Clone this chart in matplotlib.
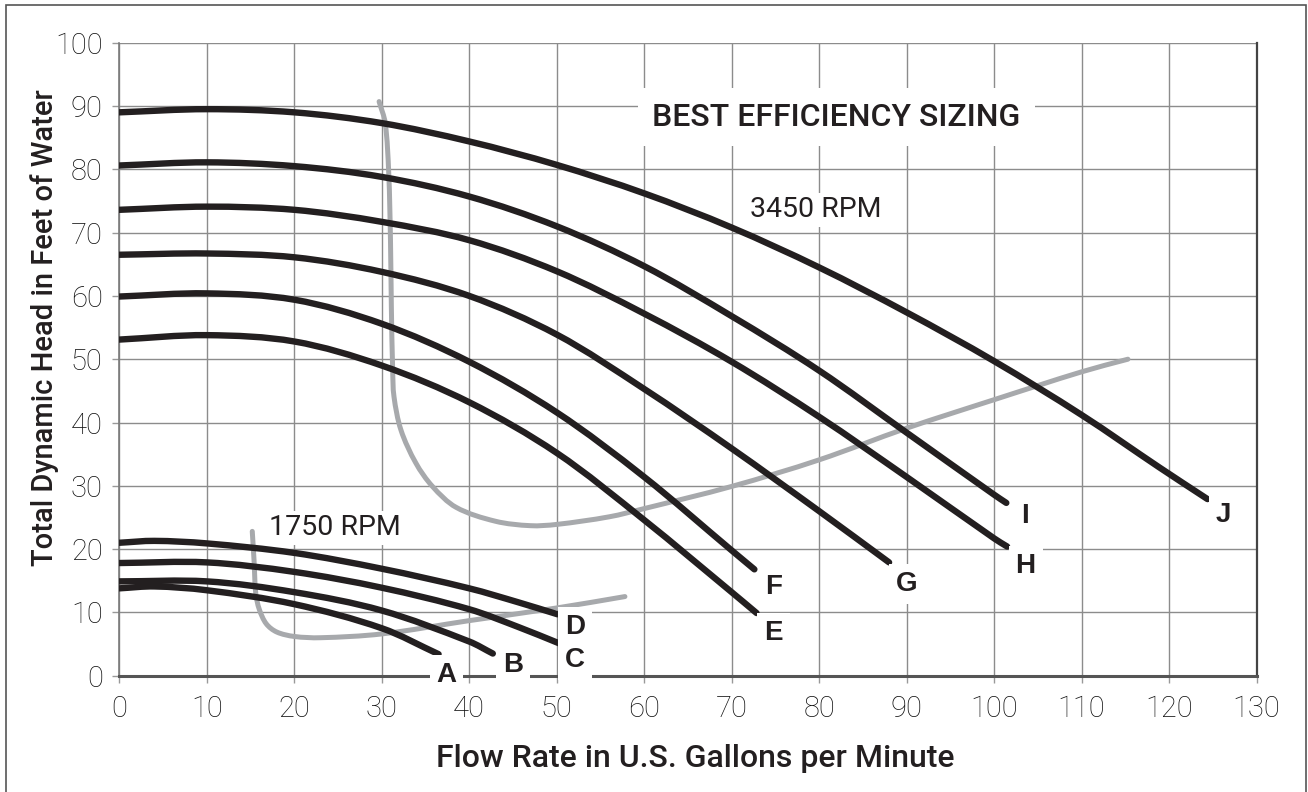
import matplotlib
matplotlib.use("Agg")
import numpy as np
import matplotlib.pyplot as plt
from matplotlib.patches import Rectangle, PathPatch
from matplotlib.path import Path

# ---------------- data ----------------
# 3450 RPM curves
x_E = [0, 10, 20, 30, 40, 50, 60, 70, 72.85]
y_E = [53.1, 53.8, 52.8, 49.0, 43.2, 35.2, 24.6, 13.2, 9.9]
x_F = [0, 10, 20, 30, 40, 50, 60, 70, 72.6]
y_F = [59.9, 60.4, 59.4, 55.6, 49.6, 41.6, 31.4, 19.8, 16.8]
x_G = [0, 10, 20, 30, 40, 50, 60, 70, 80, 88.0]
y_G = [66.5, 66.7, 66.1, 63.8, 60.0, 53.9, 45.3, 35.9, 26.0, 17.9]
x_H = [0, 10, 20, 30, 40, 50, 60, 70, 80, 90, 100, 101.5]
y_H = [73.6, 74.1, 73.6, 71.7, 68.8, 63.9, 57.2, 49.6, 40.9, 31.4, 21.7, 20.4]
x_I = [0, 10, 20, 30, 40, 50, 60, 70, 80, 90, 100, 101.4]
y_I = [80.6, 81.1, 80.5, 78.8, 75.7, 71.0, 64.7, 56.8, 48.2, 38.4, 28.6, 27.3]
x_J = [0, 10, 20, 30, 40, 50, 60, 70, 80, 90, 100, 110, 118.9, 124.4]
y_J = [89.0, 89.5, 89.0, 87.3, 84.4, 80.7, 76.2, 70.8, 64.5, 57.4, 49.7, 41.2, 32.9, 27.9]

# 1750 RPM curves
x_A = [0, 4, 10, 20, 30, 36.5]
y_A = [13.8, 14.1, 13.5, 11.3, 7.5, 3.4]
x_B = [0, 10, 20, 30, 40, 42.7]
y_B = [14.9, 14.9, 13.2, 10.3, 5.4, 3.5]
x_C = [0, 10, 20, 30, 40, 45.6, 50.3]
y_C = [17.8, 17.9, 16.4, 13.9, 10.5, 7.7, 5.1]
x_D = [0, 4, 10, 20, 30, 40, 45.6, 50.1]
y_D = [21.0, 21.3, 20.9, 19.4, 16.9, 13.8, 11.6, 9.7]

# best-efficiency boundaries (grey)
x_be3450 = [29.7, 30.4, 30.8, 31.0, 31.1, 31.25, 31.4, 32.2, 33.9, 35.8, 38.5,
            43.0, 47.0, 50.0, 56.0, 60.0, 70.0, 80.0, 90.0, 100.0, 110.0, 115.3]
y_be3450 = [90.7, 87.3, 79.4, 68.8, 58.3, 48.3, 44.1, 38.8, 33.6, 29.9, 26.6,
            24.4, 23.7, 23.9, 25.1, 26.4, 29.9, 34.1, 39.1, 43.6, 48.0, 50.0]
x_be1750 = [15.2, 15.4, 15.6, 16.0, 16.8, 18.0, 20.0, 23.0, 30.0, 40.0, 50.0, 57.8]
y_be1750 = [22.8, 18.3, 13.0, 10.5, 8.2, 6.9, 6.2, 6.0, 6.6, 8.7, 10.7, 12.5]

curve_names = ["A", "B", "C", "D", "E", "F", "G", "H", "I", "J"]
curve_x = [x_A, x_B, x_C, x_D, x_E, x_F, x_G, x_H, x_I, x_J]
curve_y = [y_A, y_B, y_C, y_D, y_E, y_F, y_G, y_H, y_I, y_J]
label_x = [37.4, 45.0, 52.1, 52.1, 74.8, 74.8, 90.0, 103.6, 103.5, 126.2]
label_y = [-0.95, 0.6, 1.4, 6.6, 5.6, 12.9, 13.4, 16.3, 24.1, 24.3]

x_ticks = list(range(0, 131, 10))
y_ticks = list(range(0, 101, 10))

# ---------------- figure ----------------
BLACK = "#231f20"
GREY = "#a7a9ac"
GRID = "#8c8c8c"

fig = plt.figure(figsize=(13.08, 7.92), dpi=100)
ax = fig.add_axes([119.3 / 1308, 1 - 675.7 / 792, (1256.5 - 119.3) / 1308, (675.7 - 42.7) / 792])
ax.set_xlim(0, 130)
ax.set_ylim(0, 100)
ax.set_xticks(x_ticks)
ax.set_yticks(y_ticks)
ax.set_axisbelow(True)
ax.grid(True, color=GRID, lw=1.0)

ax.spines["top"].set_visible(False)
ax.spines["left"].set_color("#7a7a7a")
ax.spines["left"].set_linewidth(1.2)
ax.spines["bottom"].set_color("#555555")
ax.spines["bottom"].set_linewidth(2.2)
ax.spines["right"].set_color("#444444")
ax.spines["right"].set_linewidth(1.6)

ax.tick_params(axis="both", length=5, width=1, color="#999999", colors="#111111")
ax.tick_params(axis="x", pad=9)
ax.tick_params(axis="y", pad=7)
for lab in ax.get_xticklabels() + ax.get_yticklabels():
    lab.set_fontfamily(["Roboto", "DejaVu Sans"])
    lab.set_fontweight("light")
    lab.set_fontsize(21)
    lab.set_color("#111111")


def smooth_path(xs, ys):
    """Smooth cubic path through the given data points (drawn in data space)."""
    p = np.column_stack([xs, ys]).astype(float)
    sc = np.array([8.744, 6.33])  # pixel scale per data unit, for chord lengths
    q = p * sc
    n = len(p)
    d = np.linalg.norm(np.diff(q, axis=0), axis=1)
    tang = np.zeros_like(q)
    for i in range(n):
        if i == 0:
            tang[i] = (q[1] - q[0]) / d[0]
        elif i == n - 1:
            tang[i] = (q[-1] - q[-2]) / d[-1]
        else:
            tang[i] = (q[i + 1] - q[i - 1]) / (d[i - 1] + d[i])
    verts = [p[0]]
    codes = [Path.MOVETO]
    for i in range(n - 1):
        c1 = (q[i] + tang[i] * d[i] / 3) / sc
        c2 = (q[i + 1] - tang[i + 1] * d[i] / 3) / sc
        verts += [c1, c2, p[i + 1]]
        codes += [Path.CURVE4] * 3
    return Path(np.array(verts), codes)


def draw(xs, ys, color, lw, z):
    patch = PathPatch(smooth_path(xs, ys), fill=False, edgecolor=color, lw=lw,
                      capstyle="round", joinstyle="round", zorder=z)
    ax.add_patch(patch)


# grey boundaries
draw(x_be3450, y_be3450, GREY, 3.6, 3)
draw(x_be1750, y_be1750, GREY, 3.6, 3)

# black curves
for xs, ys in zip(curve_x, curve_y):
    draw(xs, ys, BLACK, 4.6, 4)

# letter labels
for name, lx, ly in zip(curve_names, label_x, label_y):
    ax.text(lx, ly, name, ha="center", va="baseline", fontsize=20,
            fontweight="bold", family=["Liberation Sans", "DejaVu Sans"], color=BLACK,
            zorder=6, clip_on=False,
            bbox=dict(boxstyle="square,pad=0.25", fc="white", ec="none"))

textfont = ["Roboto", "DejaVu Sans"]
ax.text(82.0, 86.9, "BEST EFFICIENCY SIZING", ha="center", va="baseline",
        fontsize=23, fontweight="medium", family=textfont, color=BLACK, zorder=5,
        bbox=dict(boxstyle="square,pad=0.45", fc="white", ec="none"))
ax.text(79.6, 72.4, "3450 RPM", ha="center", va="baseline", fontsize=20.5,
        family=textfont, color=BLACK, zorder=5,
        bbox=dict(boxstyle="square,pad=0.12", fc="white", ec="none"))
ax.text(24.7, 22.2, "1750 RPM", ha="center", va="baseline", fontsize=20.5,
        family=textfont, color=BLACK, zorder=5,
        bbox=dict(boxstyle="square,pad=0.12", fc="white", ec="none"))

# axis titles
fig.text(695.5 / 1308, 1 - 767 / 792, "Flow Rate in U.S. Gallons per Minute",
         ha="center", va="baseline", fontsize=23, fontweight="medium",
         family=textfont, color=BLACK)
fig.text(53 / 1308, 1 - 327.5 / 792, "Total Dynamic Head in Feet of Water",
         ha="center", va="baseline", rotation=90, rotation_mode="anchor",
         fontsize=21, fontweight="medium", family=textfont, color=BLACK)

# outer frame
fig.add_artist(Rectangle((6 / 1308, -0.01), (1306 - 6) / 1308, 1.01 - 4.7 / 792,
                         transform=fig.transFigure, fill=False,
                         edgecolor="#555555", lw=1.2))

fig.savefig("out.png", dpi=100)
